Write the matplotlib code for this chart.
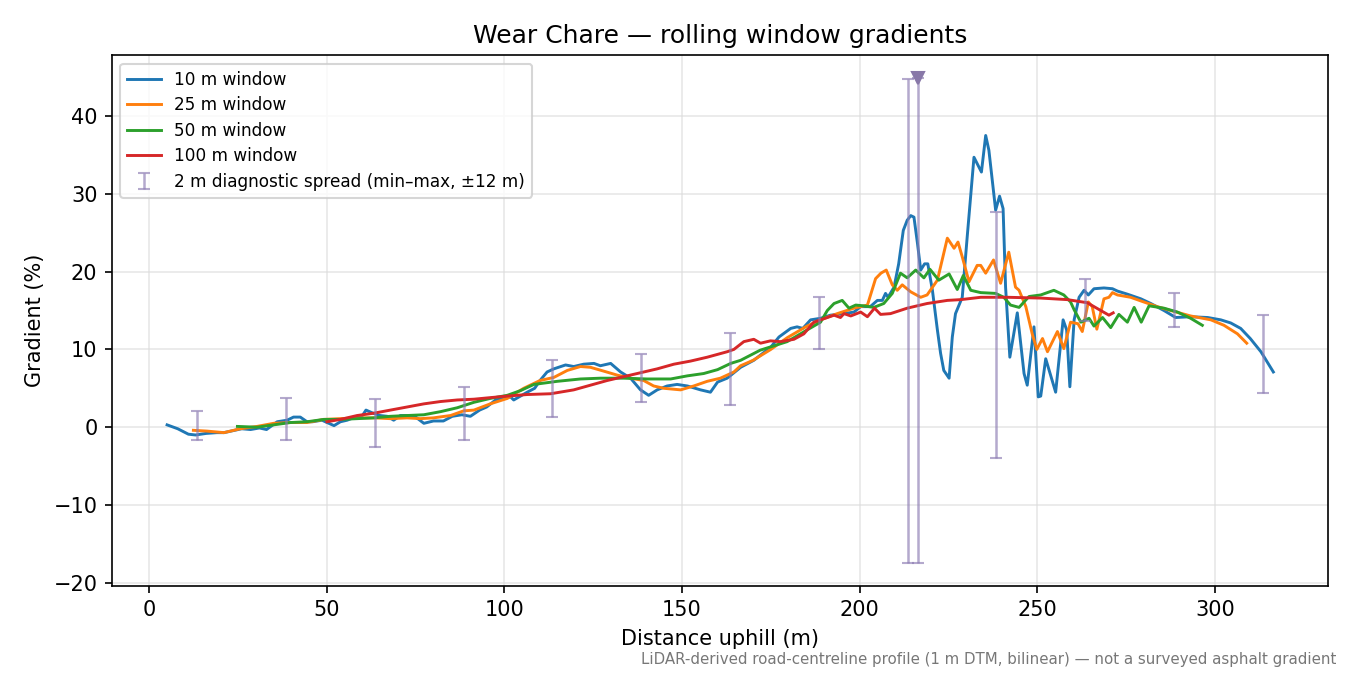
"""Wear Chare road profile: rolling-window gradients with 2 m diagnostic spread."""
import matplotlib
matplotlib.use("Agg")
import matplotlib.pyplot as plt

# 10 m window
w10_x = [5, 8, 11, 13, 16, 19, 21, 24, 26, 28.5, 31, 33, 36, 38.8, 40.6, 42.5, 44.4, 46,
         48.6, 51, 52, 53.8, 55.7, 58.5, 60, 61, 63, 65, 67, 68.8, 70.7, 72.6, 75, 77.3,
         80, 82.8, 85.3, 88, 90.4, 93, 95, 97.5, 100, 101.7, 102.6, 104.5, 106.4, 108.5,
         110, 112, 113.9, 117.2, 119.5, 122.3, 125.2, 127, 129.9, 132.7, 135.5, 138.3,
         140.6, 143, 145.8, 148.6, 151.5, 155.2, 158, 160, 162.7, 166.5, 170.2, 175,
         177.3, 180.6, 182.4, 184, 186.2, 189, 191.8, 195.6, 198.4, 200.3, 203, 205,
         206.4, 207.3, 208, 209.7, 211, 212.3, 213.4, 214.4, 215.3, 216.3, 217.2, 218.3,
         219.2, 220.5, 221.9, 222.8, 223.7, 225.2, 226.1, 227, 228.9, 230.3, 232.2,
         234.3, 235.5, 236.4, 238.3, 239.4, 240.4, 241.1, 242.3, 244.4, 246.3, 247.2,
         249.1, 250.3, 251, 252.4, 255.2, 257.3, 258.3, 259.2, 260.4, 261.8, 263.2,
         264.4, 266, 268.8, 271.2, 272.6, 275.4, 279.2, 282, 285.7, 289, 293.2, 298,
         301.7, 304.5, 307.3, 310, 313, 316.5]
w10_y = [0.3, -0.2, -0.9, -1.0, -0.8, -0.7, -0.7, -0.4, -0.2, -0.3, -0.1, -0.3, 0.7, 0.9,
         1.3, 1.3, 0.7, 0.7, 0.9, 0.4, 0.2, 0.7, 0.9, 1.4, 1.5, 2.2, 1.8, 1.5, 1.4, 0.9,
         1.5, 1.5, 1.3, 0.5, 0.8, 0.8, 1.4, 1.6, 1.4, 2.2, 2.6, 3.5, 3.7, 3.9, 3.5, 4.0,
         4.5, 5.0, 6.0, 7.1, 7.5, 8.0, 7.8, 8.1, 8.2, 7.9, 8.2, 7.1, 6.3, 4.8, 4.1, 4.8,
         5.3, 5.5, 5.3, 4.8, 4.5, 5.8, 6.3, 7.7, 8.6, 10.3, 11.6, 12.7, 12.9, 12.7, 13.8,
         14.0, 14.4, 14.6, 14.8, 15.5, 15.5, 16.3, 16.3, 17.2, 16.7, 18.0, 21.0, 25.3,
         26.6, 27.2, 27.0, 23.6, 20.2, 21.0, 21.0, 17.6, 12.5, 9.5, 7.3, 6.3, 11.6, 14.6,
         16.7, 24.5, 34.7, 32.8, 37.5, 35.6, 27.9, 29.7, 28.1, 18.0, 9.0, 14.7, 6.9, 5.4,
         12.9, 3.9, 4.0, 8.8, 4.5, 13.8, 12.5, 5.2, 13.8, 16.7, 17.6, 17.0, 17.8, 17.9,
         17.8, 17.5, 17.1, 16.5, 15.9, 15.0, 14.1, 14.2, 14.1, 13.8, 13.4, 12.7, 11.4,
         9.7, 7.1]

# 25 m window
w25_x = [12.4, 16.2, 21, 25.6, 30.3, 35, 39.7, 44.4, 49.1, 53.8, 58.5, 63.2, 67.9, 72.6,
         76.3, 80, 84.8, 88.5, 91.4, 96, 100.8, 105.4, 110, 113.9, 117.7, 121.4, 124.2,
         128, 131.7, 135.5, 139.2, 142, 144.9, 149.6, 153.3, 157.1, 160.8, 164.6, 166.5,
         170, 175, 179.6, 185.2, 189, 193.7, 198.4, 202.2, 204.5, 206, 207.5, 209.2,
         210.6, 212, 214.4, 217.2, 219, 221.9, 224.7, 226.6, 227.7, 228.9, 230.8, 233.1,
         234.1, 235.5, 237.7, 239.7, 242, 243.9, 244.9, 246.8, 248.6, 249.9, 251.5,
         252.9, 255.7, 257.5, 259.4, 261.5, 262.7, 264.4, 265.5, 266.8, 268.8, 270.2,
         271.2, 272.6, 276.3, 280, 283.8, 287.6, 293.2, 298.9, 302.6, 306.4, 309]
w25_y = [-0.4, -0.5, -0.7, -0.2, 0.1, 0.5, 0.6, 0.6, 1.0, 1.1, 1.2, 1.2, 1.1, 1.2, 1.1,
         1.2, 1.5, 2.1, 2.2, 3.0, 3.7, 5.0, 6.0, 6.4, 7.3, 7.8, 7.7, 7.2, 6.7, 6.3, 6.0,
         5.3, 5.0, 4.8, 5.3, 5.9, 6.3, 7.1, 7.9, 8.6, 10.0, 11.5, 13.0, 13.8, 14.6, 15.3,
         15.7, 19.1, 19.8, 20.2, 18.3, 17.6, 18.3, 17.4, 16.7, 17.0, 18.9, 24.3, 23.0,
         23.8, 21.9, 18.7, 20.8, 20.8, 19.8, 21.5, 18.5, 22.5, 18.0, 17.6, 15.5, 12.0,
         10.0, 11.4, 9.7, 12.3, 10.1, 13.5, 13.3, 12.3, 16.1, 15.5, 12.6, 16.5, 16.7,
         17.3, 17.0, 16.7, 16.1, 15.5, 15.0, 14.3, 13.8, 13.1, 12.0, 10.8]

# 50 m window
w50_x = [24.8, 30.3, 35, 39.7, 44.4, 49.1, 53.8, 58.5, 63.2, 67.9, 72.6, 77.3, 82, 86.7,
         91.4, 96, 100.8, 104.5, 108.3, 114.9, 121.4, 127, 133.6, 140.2, 146.8, 151.5,
         156.1, 160, 163.7, 166.5, 172, 179.6, 185.2, 189, 190.9, 192.8, 195.1, 197,
         198.9, 201.2, 204, 206.8, 209.2, 211.5, 213.4, 215.8, 218.1, 219.8, 222.3,
         225.2, 227.5, 229.2, 231.3, 234.1, 238.3, 240.6, 242.5, 244.9, 247.7, 251,
         254.7, 257.5, 259.4, 260.4, 262.3, 264.6, 266, 268.4, 270.7, 273, 275.4, 277.3,
         279.3, 281.5, 285.7, 289.5, 293.2, 296.5]
w50_y = [0.1, 0.0, 0.3, 0.6, 0.7, 1.0, 1.0, 1.1, 1.2, 1.4, 1.5, 1.6, 2.0, 2.5, 3.2, 3.7,
         4.1, 4.7, 5.5, 5.9, 6.2, 6.3, 6.3, 6.2, 6.2, 6.6, 6.9, 7.4, 8.2, 8.6, 9.9, 11.0,
         12.5, 13.5, 15.0, 15.9, 16.3, 15.3, 15.7, 15.6, 15.4, 15.9, 17.2, 19.8, 19.2,
         20.2, 19.2, 20.3, 18.9, 19.7, 17.7, 19.5, 17.6, 17.3, 17.2, 16.7, 15.7, 15.4,
         16.8, 17.0, 17.6, 17.0, 16.1, 15.1, 13.5, 14.0, 13.0, 14.1, 12.8, 14.5, 13.5,
         15.4, 13.5, 15.6, 15.3, 14.8, 14.0, 13.1]

# 100 m window
w100_x = [50, 53.8, 58.5, 63.2, 67.9, 72.6, 77.3, 82, 86.7, 91.4, 96, 100.8, 106.4, 113,
          119.5, 124.2, 128.9, 133.6, 138.3, 143, 147.7, 152.4, 157.1, 162.7, 164.6,
          167.4, 170.2, 172.1, 174.9, 177.7, 181.5, 184.3, 187.1, 189, 192.8, 194.6,
          195.6, 197.5, 200.3, 202.2, 204.2, 205.9, 208.7, 213.4, 219, 224.7, 228.5,
          234.1, 241.6, 251, 258.5, 264.1, 267.9, 270.2, 271.4]
w100_y = [0.7, 1.0, 1.5, 1.8, 2.2, 2.6, 3.0, 3.3, 3.5, 3.6, 3.8, 4.0, 4.2, 4.3, 4.8, 5.4,
          6.0, 6.5, 7.0, 7.5, 8.1, 8.5, 9.0, 9.7, 10.0, 11.0, 11.3, 10.8, 11.1, 11.0,
          11.3, 12.0, 13.5, 13.8, 14.4, 14.1, 14.6, 14.3, 14.8, 14.2, 15.3, 14.5, 14.6,
          15.3, 15.9, 16.3, 16.4, 16.7, 16.7, 16.6, 16.4, 16.0, 15.0, 14.4, 14.7]

# 2 m diagnostic spread (min / max over +-12 m)
spread_x = [13.5, 38.5, 63.5, 88.5, 113.5, 138.5, 163.5, 188.5, 213.5, 216.3, 238.5,
            263.5, 288.5, 313.5]
spread_lo = [-1.7, -1.6, -2.5, -1.7, 1.3, 3.3, 2.8, 10.0, -17.4, -17.4, -3.9, 13.7,
             12.9, 4.4]
spread_hi = [2.1, 3.7, 3.6, 5.2, 8.7, 9.4, 12.1, 16.7, 44.7, 44.9, 27.6, 19.0, 17.2, 14.4]

# location of the steepest 2 m spread
peak_x = [216.3]
peak_y = [44.9]

SPREAD_COLOR = "#8c7cb3"


def main():
    fig, ax = plt.subplots(figsize=(9, 4.5), dpi=150)
    fig.subplots_adjust(left=0.083, right=0.984, bottom=0.132, top=0.918)

    ax.plot(w10_x, w10_y, color="#1f77b4", lw=1.4, label="10 m window")
    ax.plot(w25_x, w25_y, color="#ff7f0e", lw=1.4, label="25 m window")
    ax.plot(w50_x, w50_y, color="#2ca02c", lw=1.4, label="50 m window")
    ax.plot(w100_x, w100_y, color="#d62728", lw=1.4, label="100 m window")

    mid = [(lo + hi) / 2 for lo, hi in zip(spread_lo, spread_hi)]
    yerr = [[m - lo for m, lo in zip(mid, spread_lo)],
            [hi - m for m, hi in zip(mid, spread_hi)]]
    ax.errorbar(spread_x, mid, yerr=yerr, fmt="none", ecolor=SPREAD_COLOR, alpha=0.65,
                elinewidth=1.2, capsize=3, capthick=1.0,
                label="2 m diagnostic spread (min\u2013max, \u00b112 m)")
    ax.plot(peak_x, peak_y, marker="v", ls="none", color="#8878a8", ms=6)

    ax.set_xlim(-10.5, 332)
    ax.set_ylim(-20.4, 47.8)
    ax.grid(True, color="#dddddd", lw=0.8, alpha=0.7)
    ax.set_axisbelow(True)

    ax.set_title("Wear Chare \u2014 rolling window gradients", fontsize=12)
    ax.set_xlabel("Distance uphill (m)", fontsize=10)
    ax.set_ylabel("Gradient (%)", fontsize=10)
    ax.legend(loc="upper left", fontsize=8.1, labelspacing=0.45)

    fig.text(0.99, 0.012,
             "LiDAR-derived road-centreline profile (1 m DTM, bilinear) \u2014 "
             "not a surveyed asphalt gradient",
             ha="right", va="bottom", fontsize=7.2, color="#777777")

    fig.savefig("out.png", dpi=150)
    plt.close(fig)


if __name__ == "__main__":
    main()
